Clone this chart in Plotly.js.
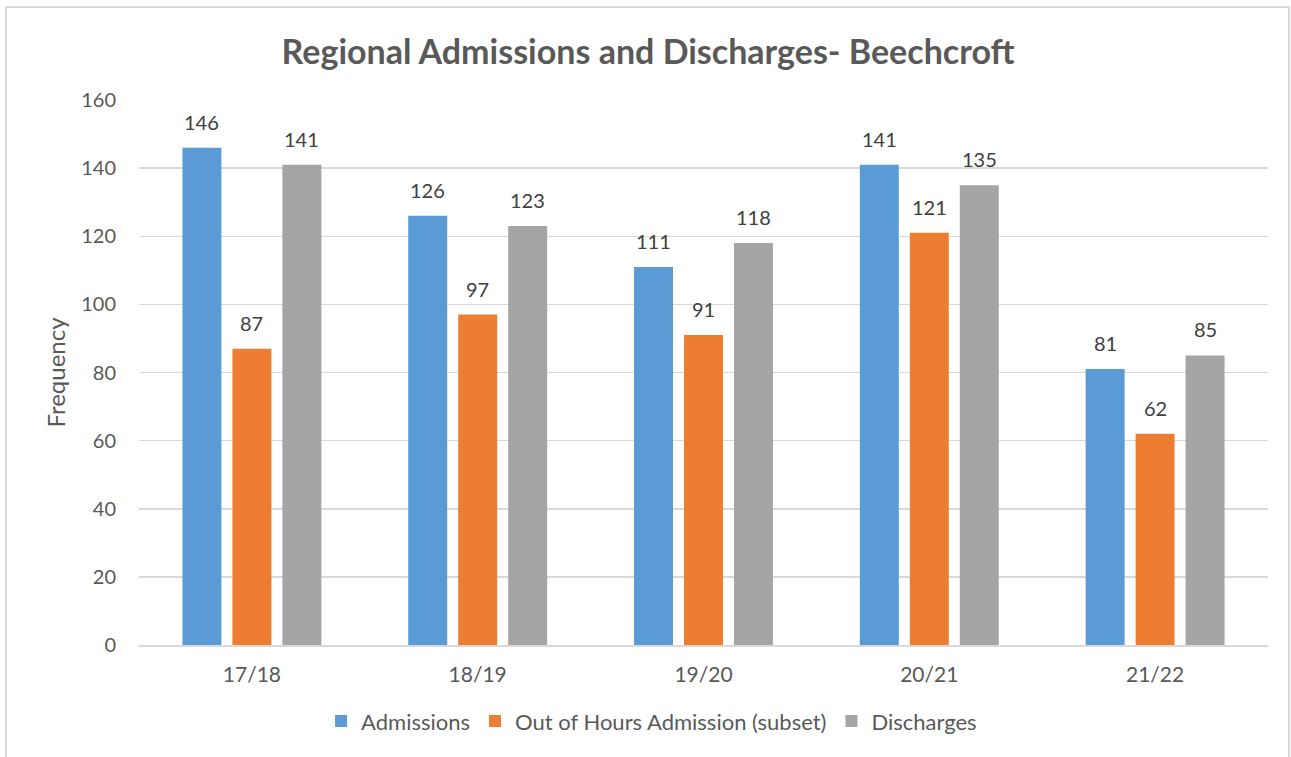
<!DOCTYPE html>
<html>
<head>
<meta charset="utf-8">
<script src="https://cdn.plot.ly/plotly-3.0.1.min.js"></script>
<style>
html,body{margin:0;padding:0;background:#fff;}
#chart{width:1291px;height:757px;position:absolute;left:0;top:0;}
#frame{position:absolute;left:5px;top:6px;width:1281px;height:760px;border:2px solid #d9d9d9;border-bottom:none;pointer-events:none;}
</style>
</head>
<body>
<div id="chart"></div>
<div id="frame"></div>
<script>
const categories = ["17/18", "18/19", "19/20", "20/21", "21/22"];
const admissions = [146, 126, 111, 141, 81];
const outOfHours = [87, 97, 91, 121, 62];
const discharges = [141, 123, 118, 135, 85];
const yTicks = [0, 20, 40, 60, 80, 100, 120, 140, 160];

const FONT = "Lato, 'Liberation Sans', sans-serif";
const seriesList = [
  {name: "Admissions", vals: admissions, color: "#5B9BD5", shift: -50},
  {name: "Out of Hours Admission (subset)", vals: outOfHours, color: "#ED7D31", shift: 0},
  {name: "Discharges", vals: discharges, color: "#A5A5A5", shift: 50}
];
const data = seriesList.map(s => ({
  type: "bar", name: s.name, x: categories, y: s.vals,
  marker: {color: s.color}, hoverinfo: "none"
}));
const annotations = [];
seriesList.forEach(s => {
  s.vals.forEach((v, i) => {
    annotations.push({
      x: categories[i], y: v, xref: "x", yref: "y", text: String(v),
      showarrow: false, xshift: s.shift, yshift: 26, yanchor: "middle", xanchor: "center",
      font: {family: FONT, size: 20, color: "#404040"}
    });
  });
});
const layout = {
  width: 1291, height: 757,
  margin: {l: 139, r: 23, t: 100, b: 112, autoexpand: false},
  paper_bgcolor: "#fff", plot_bgcolor: "#fff",
  font: {family: FONT, color: "#595959"},
  title: {text: "<b>Regional Admissions and Discharges- Beechcroft</b>", x: 0.502, xref: "container", xanchor: "center", y: 0.931, yanchor: "middle", font: {family: FONT, size: 34, color: "#595959"}},
  barmode: "group", bargap: 0.336, bargroupgap: 0.22,
  xaxis: {
    type: "category", showgrid: false, showline: true, linecolor: "#d9d9d9", linewidth: 1.5,
    ticks: "", tickangle: 0, tickfont: {size: 21, color: "#595959"}, ticklabelstandoff: 10, automargin: false
  },
  yaxis: {
    range: [0, 160], tickvals: yTicks, showgrid: true, gridcolor: "#d9d9d9", gridwidth: 1.5,
    zeroline: false, showline: false, ticks: "", tickfont: {size: 20, color: "#595959"},
    ticklabelstandoff: 22, automargin: false,
    title: {text: "Frequency", font: {size: 24, color: "#595959"}, standoff: 8}
  },
  annotations: annotations,
  legend: {orientation: "h", x: 0.454, xanchor: "center", y: -0.14, yanchor: "middle", font: {size: 22, color: "#595959"}, itemwidth: 30, traceorder: "normal"},
  showlegend: true
};
Plotly.newPlot("chart", data, layout, {displayModeBar: false, staticPlot: true});
</script>
</body>
</html>
